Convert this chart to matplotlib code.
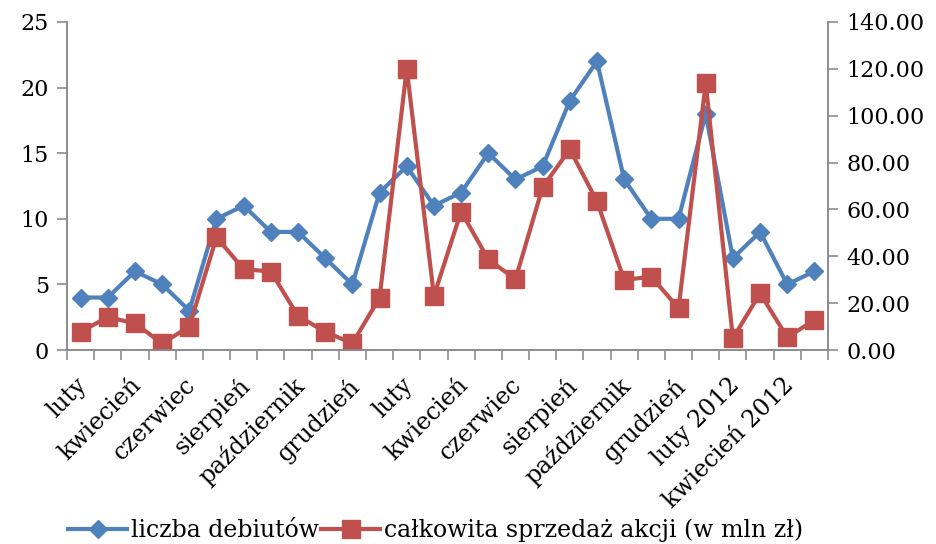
import matplotlib.pyplot as plt
import matplotlib.transforms as mtransforms
from matplotlib.ticker import FormatStrFormatter

plt.rcParams['font.family'] = ['DejaVu Serif']

# luty 2010 .. maj 2012
months = ['luty', 'marzec', 'kwiecień', 'maj', 'czerwiec', 'lipiec', 'sierpień',
          'wrzesień', 'październik', 'listopad', 'grudzień', 'styczeń',
          'luty', 'marzec', 'kwiecień', 'maj', 'czerwiec', 'lipiec', 'sierpień',
          'wrzesień', 'październik', 'listopad', 'grudzień', 'styczeń 2012',
          'luty 2012', 'marzec 2012', 'kwiecień 2012', 'maj 2012']
debuts = [4, 4, 6, 5, 3, 10, 11, 9, 9, 7, 5, 12, 14, 11, 12, 15, 13, 14,
          19, 22, 13, 10, 10, 18, 7, 9, 5, 6]
sales = [7.8, 14.0, 11.4, 2.8, 10.0, 48.1, 34.5, 33.5, 14.5, 7.8, 2.8, 22.3,
         120.0, 23.1, 59.1, 38.7, 30.2, 69.5, 85.7, 63.4, 29.9, 31.3, 17.8,
         113.9, 5.0, 24.2, 5.4, 12.8]

blue = '#4F81BD'
red = '#C0504D'
grey = '#8C8C8C'

fig = plt.figure(figsize=(9.37, 5.44), dpi=100)
ax = fig.add_axes([0.0715, 0.3566, 0.8122, 0.603])
ax2 = ax.twinx()

x = list(range(len(months)))
l1, = ax.plot(x, debuts, color=blue, lw=3, marker='D', ms=9,
              label='liczba debiutów')
l2, = ax2.plot(x, sales, color=red, lw=3, marker='s', ms=13,
               label='całkowita sprzedaż akcji (w mln zł)')

ax.set_xlim(-0.5, len(months) - 0.5)
ax.set_ylim(0, 25)
ax.set_yticks(range(0, 26, 5))
ax2.set_ylim(0, 140)
ax2.set_yticks(range(0, 141, 20))
ax2.yaxis.set_major_formatter(FormatStrFormatter('%.2f'))

ax.set_xticks([i - 0.5 for i in range(len(months) + 1)], minor=True)
ax.set_xticks(x[::2])
ax.set_xticklabels(months[::2], rotation=45, ha='right', rotation_mode='anchor')
ax.tick_params(axis='x', which='major', length=0, pad=17, labelsize=17)
ax.tick_params(axis='x', which='minor', length=7, color=grey, width=1.2)
ax.tick_params(axis='y', length=7, color=grey, width=1.2, labelsize=16, pad=6)
ax2.tick_params(axis='y', length=7, color=grey, width=1.2, labelsize=16, pad=6)

shift = mtransforms.ScaledTranslation(-5 / 100, 0, fig.dpi_scale_trans)
for lab in ax.get_xticklabels():
    lab.set_transform(lab.get_transform() + shift)

for a in (ax, ax2):
    a.spines['top'].set_visible(False)
    for s in ('left', 'right', 'bottom'):
        a.spines[s].set_color(grey)
        a.spines[s].set_linewidth(1.2)

fig.legend(handles=[l1, l2], loc='lower center', bbox_to_anchor=(0.465, -0.035),
           ncol=2, frameon=False, fontsize=17, handlelength=2.5,
           handletextpad=0.15, columnspacing=0.1)

fig.savefig('out.png')
